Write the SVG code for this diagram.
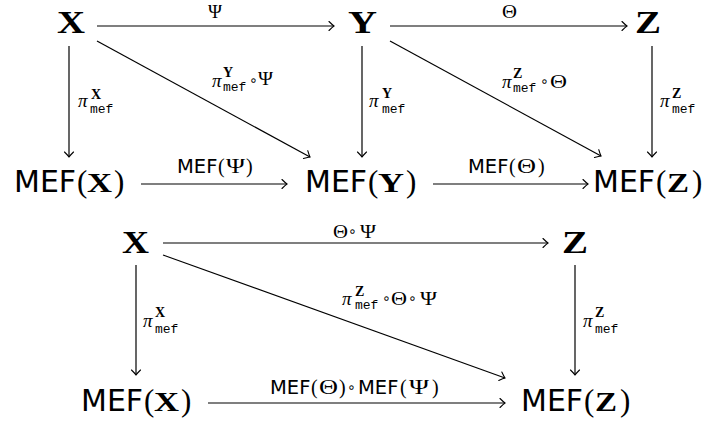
<svg xmlns="http://www.w3.org/2000/svg" width="708" height="426" viewBox="0 0 708 426">
<style>
.n{font-family:"Liberation Serif",serif;font-weight:bold;font-size:32px}
.s{font-family:"DejaVu Sans",sans-serif;font-size:30px}
.p{font-family:"Liberation Serif",serif;font-size:31px}
.nb{font-family:"Liberation Serif",serif;font-weight:bold;font-size:27px}
.l{font-family:"Liberation Serif","DejaVu Serif",serif;font-size:19px}
.g{font-family:"Liberation Serif","DejaVu Serif",serif;font-size:20px}
.li{font-family:"Liberation Serif","DejaVu Serif",serif;font-size:19px;font-style:italic}
.ls{font-family:"DejaVu Sans",sans-serif;font-size:19.5px}
.o{font-family:"DejaVu Sans",sans-serif;font-size:14px}
.sup{font-family:"Liberation Serif",serif;font-weight:bold;font-size:14px}
.sub{font-family:"Liberation Mono",monospace;font-size:13px}
.c line{stroke:#000;stroke-width:1.2;marker-end:url(#ah)}
</style>
<defs>
<marker id="ah" viewBox="-7 -6 9 12" refX="0" refY="0" markerWidth="9" markerHeight="12" markerUnits="userSpaceOnUse" orient="auto">
<path d="M-5,-4.5 Q-1.5,-1 0,0 Q-1.5,1 -5,4.5" fill="none" stroke="#000" stroke-width="1.1" stroke-linecap="round"/>
</marker>
</defs>
<rect width="708" height="426" fill="#fff"/>

<g id="connectors" class="c">
<line x1="97" y1="26" x2="334" y2="26"/>
<line x1="390" y1="26" x2="627" y2="26"/>
<line x1="69" y1="46" x2="69" y2="157"/>
<line x1="97" y1="41" x2="310" y2="157"/>
<line x1="362" y1="46" x2="362" y2="157"/>
<line x1="390" y1="41" x2="601" y2="156"/>
<line x1="652" y1="46" x2="652" y2="157"/>
<line x1="141" y1="184" x2="287" y2="184"/>
<line x1="433" y1="184" x2="588" y2="184"/>
<line x1="163" y1="243" x2="548" y2="243"/>
<line x1="136" y1="265" x2="136" y2="375"/>
<line x1="163" y1="255" x2="505" y2="378"/>
<line x1="575" y1="265" x2="575" y2="375"/>
<line x1="208" y1="403" x2="505" y2="403"/>
</g>

<g id="labels">
<text class="l" x="208" y="18" textLength="14" lengthAdjust="spacingAndGlyphs">Ψ</text>
<text class="l" x="502" y="18" textLength="15" lengthAdjust="spacingAndGlyphs">Θ</text>
<g><text class="li" x="78" y="107">π</text><text class="sup" x="91" y="99">X</text><text class="sub" x="90" y="113">mef</text></g>
<g><text class="li" x="212" y="87">π</text><text class="sup" x="223" y="77">Y</text><text class="sub" x="223" y="91">mef</text><text class="o" x="249" y="85">∘</text><text class="l" x="258" y="85" textLength="15" lengthAdjust="spacingAndGlyphs">Ψ</text></g>
<g><text class="li" x="369" y="107">π</text><text class="sup" x="382" y="98">Y</text><text class="sub" x="382" y="113">mef</text></g>
<g><text class="li" x="502" y="88">π</text><text class="sup" x="513" y="78">Z</text><text class="sub" x="513" y="92">mef</text><text class="o" x="540" y="86">∘</text><text class="l" x="550" y="88" textLength="17" lengthAdjust="spacingAndGlyphs">Θ</text></g>
<g><text class="li" x="660" y="107">π</text><text class="sup" x="672" y="98">Z</text><text class="sub" x="672" y="113">mef</text></g>
<g><text class="ls" x="177" y="173">MEF</text><text class="g" x="218" y="173">(</text><text class="g" x="226" y="173" textLength="19" lengthAdjust="spacingAndGlyphs">Ψ</text><text class="g" x="246" y="173">)</text></g>
<g><text class="ls" x="468" y="173">MEF</text><text class="g" x="509" y="173">(</text><text class="g" x="517" y="173" textLength="19" lengthAdjust="spacingAndGlyphs">Θ</text><text class="g" x="538" y="173">)</text></g>
<g><text class="l" x="333" y="238" textLength="15" lengthAdjust="spacingAndGlyphs">Θ</text><text class="o" x="348" y="236">∘</text><text class="l" x="360" y="238" textLength="16" lengthAdjust="spacingAndGlyphs">Ψ</text></g>
<g><text class="li" x="143" y="327">π</text><text class="sup" x="155" y="317">X</text><text class="sub" x="155" y="333">mef</text></g>
<g><text class="li" x="342" y="305">π</text><text class="sup" x="355" y="296">Z</text><text class="sub" x="355" y="309">mef</text><text class="o" x="382" y="303">∘</text><text class="l" x="391" y="305" textLength="16" lengthAdjust="spacingAndGlyphs">Θ</text><text class="o" x="408" y="303">∘</text><text class="l" x="420" y="305" textLength="17" lengthAdjust="spacingAndGlyphs">Ψ</text></g>
<g><text class="li" x="583" y="327">π</text><text class="sup" x="595" y="317">Z</text><text class="sub" x="595" y="333">mef</text></g>
<g><text class="ls" x="270" y="394">MEF</text><text class="g" x="311" y="394">(</text><text class="g" x="319" y="394" textLength="19" lengthAdjust="spacingAndGlyphs">Θ</text><text class="g" x="339" y="394">)</text><text class="o" x="347" y="392">∘</text><text class="ls" x="358" y="394">MEF</text><text class="g" x="400" y="394">(</text><text class="g" x="409" y="394" textLength="20" lengthAdjust="spacingAndGlyphs">Ψ</text><text class="g" x="432" y="394">)</text></g>
</g>

<g id="node-X1"><text class="n" x="57" y="33" textLength="28" lengthAdjust="spacingAndGlyphs">X</text></g>
<g id="node-Y1"><text class="n" x="348" y="33" textLength="29" lengthAdjust="spacingAndGlyphs">Y</text></g>
<g id="node-Z1"><text class="n" x="635" y="33" textLength="26" lengthAdjust="spacingAndGlyphs">Z</text></g>
<g id="node-MEFX1" transform="translate(14,192)"><text class="s" x="0" y="0">MEF</text><text class="p" x="63" y="0">(</text><text class="nb" x="73" y="0" textLength="25" lengthAdjust="spacingAndGlyphs">X</text><text class="p" x="100" y="0">)</text></g>
<g id="node-MEFY1" transform="translate(305,192)"><text class="s" x="0" y="0">MEF</text><text class="p" x="63" y="0">(</text><text class="nb" x="73" y="0" textLength="26" lengthAdjust="spacingAndGlyphs">Y</text><text class="p" x="101" y="0">)</text></g>
<g id="node-MEFZ1" transform="translate(593,192)"><text class="s" x="0" y="0">MEF</text><text class="p" x="63" y="0">(</text><text class="nb" x="74" y="0" textLength="22" lengthAdjust="spacingAndGlyphs">Z</text><text class="p" x="99" y="0">)</text></g>
<g id="node-X2"><text class="n" x="122" y="253" textLength="27" lengthAdjust="spacingAndGlyphs">X</text></g>
<g id="node-Z2"><text class="n" x="562" y="253" textLength="26" lengthAdjust="spacingAndGlyphs">Z</text></g>
<g id="node-MEFX2" transform="translate(81,411)"><text class="s" x="0" y="0">MEF</text><text class="p" x="63" y="0">(</text><text class="nb" x="73" y="0" textLength="25" lengthAdjust="spacingAndGlyphs">X</text><text class="p" x="100" y="0">)</text></g>
<g id="node-MEFZ2" transform="translate(521,411)"><text class="s" x="0" y="0">MEF</text><text class="p" x="63" y="0">(</text><text class="nb" x="74" y="0" textLength="22" lengthAdjust="spacingAndGlyphs">Z</text><text class="p" x="99" y="0">)</text></g>
</svg>
